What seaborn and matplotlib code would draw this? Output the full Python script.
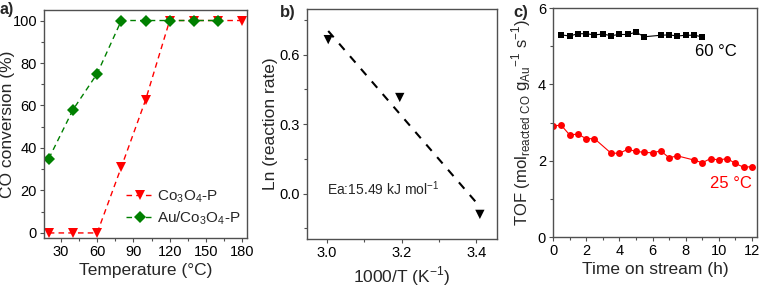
import numpy as np
import pandas as pd
import seaborn as sns
import matplotlib.pyplot as plt
from matplotlib.ticker import MultipleLocator

# a) CO conversion vs temperature
temp = [20, 40, 60, 80, 100, 120, 140, 160, 180]
conv_co3o4 = [0, 0, 0, 31, 62.5, 100, 100, 100, 100]
temp_au = [20, 40, 60, 80, 100, 120, 140, 160]
conv_au = [35, 58, 75, 100, 100, 100, 100, 100]

# b) Arrhenius plot
inv_t = [3.003, 3.195, 3.41]
ln_rate = [0.665, 0.415, -0.09]

# c) TOF vs time on stream
t_60 = [0.5, 1, 1.5, 2, 2.5, 3, 3.5, 4, 4.5, 5, 5.5, 6.5, 7, 7.5, 8, 8.5, 9]
tof_60 = [5.30, 5.27, 5.33, 5.33, 5.30, 5.32, 5.28, 5.31, 5.31, 5.37, 5.25,
          5.29, 5.30, 5.27, 5.29, 5.29, 5.25]
t_25 = [0, 0.5, 1, 1.5, 2, 2.5, 3.5, 4, 4.5, 5, 5.5, 6, 6.5, 7, 7.5,
        8.5, 9, 9.5, 10, 10.5, 11, 11.5, 12]
tof_25 = [2.92, 2.93, 2.68, 2.70, 2.58, 2.58, 2.20, 2.20, 2.30, 2.25, 2.22,
          2.21, 2.26, 2.08, 2.13, 2.02, 1.95, 2.06, 2.02, 2.06, 1.93, 1.83, 1.85]

sns.set_theme(style='ticks')
plt.rcParams['font.family'] = ['Liberation Sans', 'DejaVu Sans']
plt.rcParams['mathtext.fontset'] = 'custom'
plt.rcParams['mathtext.rm'] = 'Liberation Sans'
plt.rcParams['axes.edgecolor'] = '#505050'
plt.rcParams['axes.linewidth'] = 1.0
for k in ['xtick', 'ytick']:
    plt.rcParams[k + '.major.size'] = 3
    plt.rcParams[k + '.minor.size'] = 2
    plt.rcParams[k + '.major.width'] = 0.8
    plt.rcParams[k + '.minor.width'] = 0.8
    plt.rcParams[k + '.color'] = '#505050'
    plt.rcParams[k + '.labelcolor'] = 'black'
    plt.rcParams[k + '.labelsize'] = 10.5

fig = plt.figure(figsize=(7.61, 2.91), dpi=100)
ax1 = fig.add_axes([0.0578, 0.182, 0.2668, 0.784])
ax2 = fig.add_axes([0.4034, 0.179, 0.2497, 0.789])
ax3 = fig.add_axes([0.7267, 0.185, 0.2681, 0.787])

red = '#ff0000'
green = '#008000'
lab_fs = 12.5

# ---- a)
sns.lineplot(x=temp, y=conv_co3o4, ax=ax1, color=red, lw=1,
             marker='v', markersize=7.5, markeredgewidth=0,
             label='Co$_3$O$_4$-P')
ax1.lines[-1].set_linestyle((0, (4, 3)))
sns.lineplot(x=temp_au, y=conv_au, ax=ax1, color=green, lw=1,
             marker='D', markersize=6, markeredgewidth=0,
             label='Au/Co$_3$O$_4$-P')
ax1.lines[-1].set_linestyle((0, (4, 3)))
ax1.set_xlim(16, 184)
ax1.set_ylim(-2.4, 105)
ax1.xaxis.set_major_locator(MultipleLocator(30))
ax1.xaxis.set_minor_locator(MultipleLocator(15))
ax1.yaxis.set_major_locator(MultipleLocator(20))
ax1.yaxis.set_minor_locator(MultipleLocator(10))
ax1.set_xlabel('Temperature (°C)', fontsize=lab_fs, labelpad=3)
ax1.set_ylabel('CO conversion (%)', fontsize=lab_fs)
ax1.yaxis.set_label_coords(-0.145, 0.5)
ax1.legend(loc='lower right', frameon=False, fontsize=11, handlelength=1.9,
           handletextpad=0.15, borderaxespad=0.0, labelspacing=0.3,
           bbox_to_anchor=(1.0, 0.02))

# ---- b)
sns.scatterplot(x=inv_t, y=ln_rate, ax=ax2, color='black', marker='v', s=45,
                edgecolor='none', zorder=3)
slope, icpt = np.polyfit(inv_t, ln_rate, 1)
fit_x = np.array([inv_t[0], 3.405])
sns.lineplot(x=fit_x, y=slope * fit_x + icpt, ax=ax2, color='black', lw=1.5)
ax2.lines[-1].set_linestyle((0, (4, 4)))
ax2.set_xlim(2.946, 3.456)
ax2.set_ylim(-0.196, 0.796)
ax2.xaxis.set_major_locator(MultipleLocator(0.2))
ax2.xaxis.set_minor_locator(MultipleLocator(0.1))
ax2.yaxis.set_major_locator(MultipleLocator(0.3))
ax2.yaxis.set_minor_locator(MultipleLocator(0.15))
ax2.set_xlabel('1000/T (K$^{\\mathregular{-1}}$)', fontsize=lab_fs, labelpad=3)
ax2.set_ylabel('Ln (reaction rate)', fontsize=lab_fs)
ax2.yaxis.set_label_coords(-0.155, 0.5)
ax2.text(3.0, 0.02, 'Ea:15.49 kJ mol$^{\\mathregular{-1}}$', fontsize=10,
         ha='left', va='center')

# ---- c)
sns.lineplot(x=t_60, y=tof_60, ax=ax3, color='black', lw=0.8, marker='s',
             markersize=4, markeredgewidth=0)
sns.lineplot(x=t_25, y=tof_25, ax=ax3, color=red, lw=0.8, marker='o',
             markersize=5, markeredgewidth=0)
ax3.set_xlim(0, 12.3)
ax3.set_ylim(0, 6)
ax3.xaxis.set_major_locator(MultipleLocator(2))
ax3.xaxis.set_minor_locator(MultipleLocator(1))
ax3.yaxis.set_major_locator(MultipleLocator(2))
ax3.yaxis.set_minor_locator(MultipleLocator(1))
ax3.set_xlabel('Time on stream (h)', fontsize=lab_fs, labelpad=3)
ax3.set_ylabel('TOF (mol$_{\\mathregular{reacted\\ CO}}$ g$_{\\mathregular{Au}}$'
               '$^{\\mathregular{-1}}$ s$^{\\mathregular{-1}}$)', fontsize=12)
ax3.yaxis.set_label_coords(-0.1, 0.5)
ax3.text(9.8, 4.86, '60 °C', fontsize=12, ha='center', va='center',
         color='black')
ax3.text(10.7, 1.40, '25 °C', fontsize=12, ha='center', va='center',
         color=red)

for ax in (ax1, ax2, ax3):
    ax.tick_params(which='both', direction='out', pad=2)

fig.text(0.0, 0.966, 'a)', fontsize=11.5, fontweight='bold', va='center')
fig.text(0.368, 0.958, 'b)', fontsize=12, fontweight='bold', va='center')
fig.text(0.674, 0.958, 'c)', fontsize=12, fontweight='bold', va='center')

fig.savefig('out.png', dpi=100)
